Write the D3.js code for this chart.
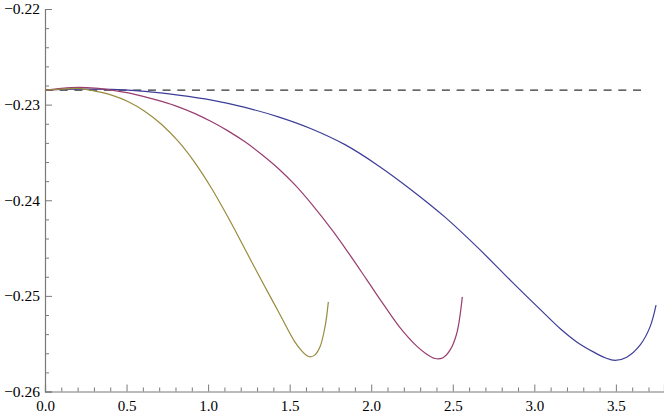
<!DOCTYPE html>
<html><head><meta charset="utf-8">
<script src="https://cdn.jsdelivr.net/npm/d3@7"></script>
<style>html,body{margin:0;padding:0;background:#fff;}svg{display:block;}</style>
</head><body>
<svg id="c" width="664" height="416"></svg>
<script>
const xMajorTicks = [0, 0.5, 1.0, 1.5, 2.0, 2.5, 3.0, 3.5];
const yMajorTicks = [-0.26, -0.25, -0.24, -0.23, -0.22];

const oliveX = [0, 0.102, 0.2044, 0.3066, 0.4087, 0.5109, 0.6131, 0.7153, 0.8175, 0.9197, 1.0219, 1.1240, 1.2262, 1.3284, 1.4306, 1.5328, 1.5737, 1.6043, 1.6248, 1.6554, 1.6861, 1.7167, 1.7372];
const oliveY = [-0.228483, -0.228379, -0.228309, -0.228588, -0.229006, -0.229704, -0.230715, -0.232075, -0.233853, -0.236085, -0.238769, -0.241838, -0.245115, -0.248428, -0.251635, -0.254843, -0.255750, -0.256237, -0.256377, -0.256168, -0.255331, -0.253239, -0.250625];

const magentaX = [0, 0.1024, 0.2042, 0.3066, 0.4090, 0.5107, 0.6131, 0.7155, 0.8173, 0.9197, 1.0221, 1.1239, 1.2262, 1.3286, 1.4304, 1.5328, 1.6352, 1.7676, 1.8700, 1.9724, 2.0742, 2.1766, 2.2790, 2.3360, 2.3912, 2.4402, 2.4831, 2.5242, 2.5585];
const magentaY = [-0.228483, -0.228295, -0.228201, -0.228274, -0.228483, -0.228776, -0.229184, -0.229665, -0.230230, -0.230941, -0.231799, -0.232772, -0.233891, -0.235209, -0.236674, -0.238400, -0.240408, -0.243285, -0.245743, -0.248305, -0.250868, -0.253326, -0.255261, -0.256046, -0.256548, -0.256464, -0.255680, -0.253933, -0.250105];

const blueX = [0, 0.2042, 0.4090, 0.6131, 0.8173, 1.0221, 1.2262, 1.4304, 1.6352, 1.8394, 2.0435, 2.2483, 2.4525, 2.6566, 2.8614, 3.0656, 3.1576, 3.2600, 3.3617, 3.4335, 3.4948, 3.5665, 3.6480, 3.7094, 3.7462];
const blueY = [-0.228483, -0.228379, -0.228410, -0.228619, -0.229006, -0.229529, -0.230293, -0.231276, -0.232542, -0.234184, -0.236381, -0.238944, -0.241768, -0.245010, -0.248515, -0.251914, -0.253410, -0.254812, -0.255858, -0.256464, -0.256747, -0.256412, -0.255157, -0.253243, -0.250973];

const refX = [0, 3.667];
const refY = [-0.22848, -0.22848];

const svg = d3.select("#c");
const x = d3.scaleLinear().domain([0, 3.795]).range([45, 664]);
const y = d3.scaleLinear().domain([-0.26, -0.22]).range([391.5, 9]);

const axisColor = "#7a7a7a";
const fmtX = d3.format(".1f");
const fmtY = v => d3.format(".2f")(v).replace("-", "\u2212");
const fontFam = "Liberation Serif, serif";

// x axis
const xMinor = d3.range(0, 38).map(i => i / 10).filter(v => Math.abs(v * 2 - Math.round(v * 2)) > 1e-6);
const gx = svg.append("g").attr("transform", `translate(0,${y(-0.26)})`);
gx.call(d3.axisBottom(x).tickValues(xMajorTicks).tickSize(-7).tickFormat(fmtX).tickPadding(12));
const gxm = svg.append("g").attr("transform", `translate(0,${y(-0.26)})`);
gxm.call(d3.axisBottom(x).tickValues(xMinor).tickSize(-4).tickFormat(""));
gxm.select(".domain").remove();

// y axis
const yMinor = d3.range(0, 21).map(i => -0.26 + i * 0.002).filter(v => Math.abs(v * 100 - Math.round(v * 100)) > 1e-6);
const gy = svg.append("g").attr("transform", `translate(${x(0)},0)`);
gy.call(d3.axisLeft(y).tickValues(yMajorTicks).tickSize(-7).tickFormat(fmtY).tickPadding(5));
const gym = svg.append("g").attr("transform", `translate(${x(0)},0)`);
gym.call(d3.axisLeft(y).tickValues(yMinor).tickSize(-4).tickFormat(""));
gym.select(".domain").remove();

svg.selectAll("g").attr("font-family", null);
svg.selectAll(".domain").attr("stroke", axisColor).attr("stroke-width", 1.2);
svg.selectAll(".tick line").attr("stroke", axisColor).attr("stroke-width", 1);
svg.selectAll(".tick text").style("font-family", fontFam).style("font-size", "15px").attr("fill", "#000");
gy.selectAll(".tick text").style("font-size", "15.5px");
gx.selectAll(".tick text").attr("dy", "0.71em").attr("y", 9);

const line = d3.line().x(d => x(d[0])).y(d => y(d[1])).curve(d3.curveCatmullRom.alpha(0.5));
const zip = (a, b) => a.map((v, i) => [v, b[i]]);

svg.append("path").datum(zip(refX, refY)).attr("d", d3.line().x(d => x(d[0])).y(d => y(d[1])))
  .attr("fill", "none").attr("stroke", "#333").attr("stroke-width", 1.3).attr("stroke-dasharray", "8,6.7");

const series = [
  {xs: blueX, ys: blueY, color: "#3d3d99"},
  {xs: magentaX, ys: magentaY, color: "#993d71"},
  {xs: oliveX, ys: oliveY, color: "#998b3d"}
];
series.forEach(s => {
  svg.append("path").datum(zip(s.xs, s.ys)).attr("d", line)
    .attr("fill", "none").attr("stroke", s.color).attr("stroke-width", 1.2);
});
</script>
</body></html>
